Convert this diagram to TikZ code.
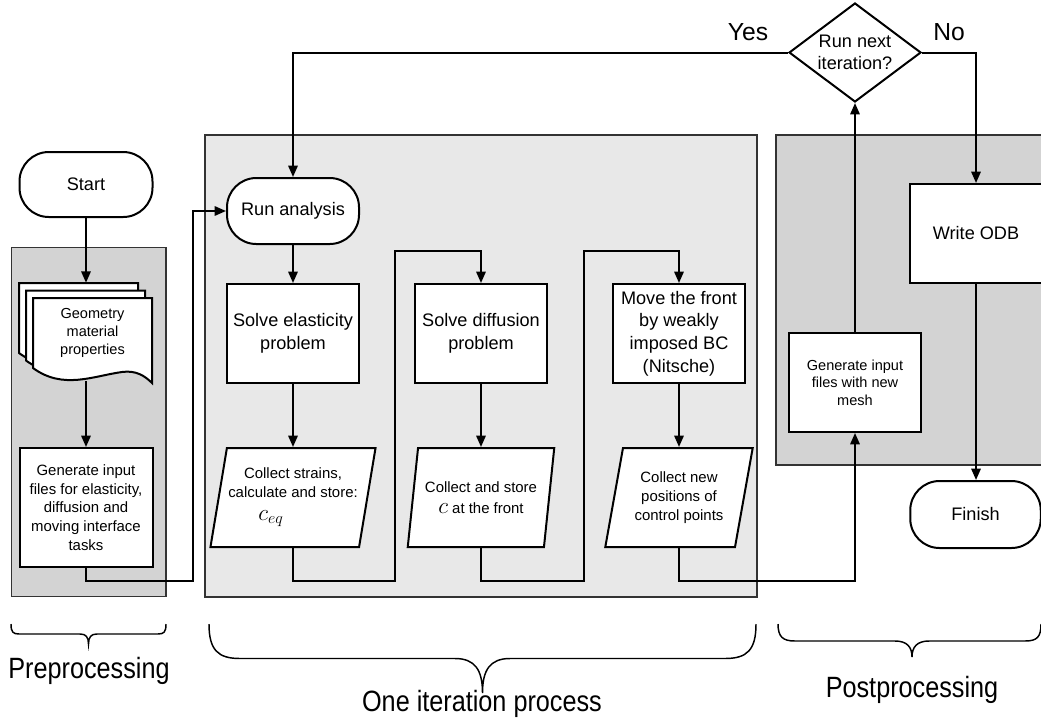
\documentclass[tikz,border=0pt]{standalone}
\usepackage{fontspec}
\setmainfont{Liberation Sans}
\newfontfamily\labelfont{Liberation Sans}[FakeStretch=0.86]
\usetikzlibrary{arrows.meta,shapes.geometric,calc}
\definecolor{grayA}{RGB}{211,211,211}
\definecolor{grayB}{RGB}{232,232,232}
\begin{document}
\begin{tikzpicture}[x=0.75pt,y=-0.75pt,
  line/.style={line width=1.5pt},
  conn/.style={line width=1.5pt,-{Triangle[length=8.5pt,width=7pt]}},
  box/.style={draw,fill=white,line width=1.5pt,align=center,inner sep=1pt},
  big/.style={font=\fontsize{13.6}{17}\selectfont},
  small/.style={font=\fontsize{11.2}{14}\selectfont},
  tiny/.style={font=\fontsize{10.9}{13.3}\selectfont},
  term/.style={box,big,rounded corners=22pt},
  para/.style={box,small,trapezium,trapezium left angle=75,trapezium right angle=105,trapezium stretches=true},
  region/.style={draw=black!80,line width=1pt},
  lbl/.style={font=\labelfont\fontsize{22}{26}\selectfont},
  yn/.style={font=\fontsize{18.5}{22}\selectfont},
  brace/.style={line width=1.1pt},
  page/.style={draw,fill=white,line width=1.5pt},
]
\useasboundingbox (0,0) rectangle (1041,722);
% regions
\filldraw[region,fill=grayA] (11.5,247.5) rectangle (166,596.5);
\filldraw[region,fill=grayB] (205,135) rectangle (757,597);
\filldraw[region,fill=grayA] (776,135) rectangle (1050,465);

% preprocessing
\node[term,minimum width={133*0.75pt},minimum height={65*0.75pt}] (start) at (86,184.5) {Start};
\foreach \sx/\sy in {0/0,7/7.5,14/15}{
  \filldraw[page,shift={(19+\sx,283+\sy)}] (0,0) -- (119,0) -- (119,85)
    .. controls (112,78) and (103,72) .. (89,74)
    .. controls (60,78) and (30,92) .. (0,70) -- cycle;
}
\node[tiny,align=center] (doctext) at (92.5,333) {Geometry\\material\\properties};
\node[minimum width={133*0.75pt},minimum height={98*0.75pt},inner sep=0pt] (doc) at (86,332) {};
\node[box,small,minimum width={133*0.75pt},minimum height={119*0.75pt}] (gen1) at (86,507.5)
  {Generate input\\files for elasticity,\\diffusion and\\moving interface\\tasks};

% iteration
\node[term,minimum width={132*0.75pt},minimum height={66*0.75pt}] (run) at (293,211) {Run analysis};
\node[box,big,minimum width={132*0.75pt},minimum height={99*0.75pt}] (elast) at (293,333.5) {Solve elasticity\\problem};
\node[box,big,minimum width={132*0.75pt},minimum height={99*0.75pt}] (diff) at (481,333.5) {Solve diffusion\\problem};
\node[box,big,minimum width={132.5*0.75pt},minimum height={99*0.75pt}] (move) at (679,333.5) {Move the front\\by weakly\\imposed BC\\(Nitsche)};
\node[para,minimum width={163*0.75pt},minimum height={99*0.75pt}] (coll1) at (293,497.5)
  {Collect strains,\\calculate and store:\\[3pt]{\fontsize{17}{17}\selectfont$c_{eq}$}\hspace*{33pt}};
\node[para,minimum width={148*0.75pt},minimum height={99*0.75pt}] (coll2) at (481,497.5)
  {Collect and store\\[2pt]{\fontsize{18}{18}\selectfont$c$} at the front};
\node[para,minimum width={148.4*0.75pt},minimum height={99*0.75pt}] (coll3) at (679,497.5)
  {Collect new\\positions of\\control points};

% postprocessing
\node[box,tiny,minimum width={132.7*0.75pt},minimum height={98.5*0.75pt}] (gen2) at (855,382.7)
  {Generate input\\files with new\\mesh};
\node[draw,fill=white,line width=1.5pt,diamond,aspect=1.33,inner sep=0pt,align=center,big,
  minimum width={132*0.75pt},minimum height={99*0.75pt}] (dec) at (855,52.5) {Run next\\iteration?};
\node[box,big,minimum width={133*0.75pt},minimum height={99*0.75pt}] (write) at (976,233.5) {Write ODB};
\node[term,minimum width={130.5*0.75pt},minimum height={67*0.75pt}] (finish) at (975.5,514.5) {Finish};
\node[yn] (yes) at (748,32) {Yes};
\node[yn] (no) at (949,32) {No};

% route points
\coordinate (b1) at (193,581);
\coordinate (b2) at (395,581);
\coordinate (t2) at (395,251);
\coordinate (b3) at (584,581);
\coordinate (t3) at (584,251);
\coordinate (b4) at (855,581);

% connectors
\draw[conn] (start) -- (doc);
\draw[conn] (doc) -- (gen1);
\draw[conn] (gen1.south) |- (b1) |- (run.west);
\draw[conn] (run) -- (elast);
\draw[conn] (elast.south) -- (elast.south |- coll1.north);
\draw[conn] (coll1.south) |- (b2) -- (t2) -| (diff.north);
\draw[conn] (diff.south) -- (diff.south |- coll2.north);
\draw[conn] (coll2.south) |- (b3) -- (t3) -| (move.north);
\draw[conn] (move.south) -- (move.south |- coll3.north);
\draw[conn] (coll3.south) |- (b4) -- (gen2.south);
\draw[conn] (gen2) -- (dec);
\draw[conn] (dec.west) -| (run.north);
\draw[conn] (dec.east) -| (write.north);
\draw[conn] (write.south) -- (write.south |- finish.north);

% braces
\draw[brace] (11,624) .. controls (11,632) and (13,634) .. (19,634) -- (80,634)
  .. controls (86,634) and (88.5,637) .. (88.5,644)
  .. controls (88.5,637) and (91,634) .. (97,634) -- (158,634)
  .. controls (164,634) and (166,632) .. (166,624);
\draw[brace] (209,624) .. controls (209,650) and (218,658.5) .. (240,658.5) -- (455,658.5)
  .. controls (475,658.5) and (482.5,670) .. (482.5,693)
  .. controls (482.5,670) and (490,658.5) .. (510,658.5) -- (725,658.5)
  .. controls (747,658.5) and (756,650) .. (756,624);
\draw[brace] (778,624) .. controls (778,637) and (783,641) .. (795,641) -- (895,641)
  .. controls (907,641) and (912,647) .. (912,657)
  .. controls (912,647) and (917,641) .. (929,641) -- (1025,641)
  .. controls (1037,641) and (1041,637) .. (1041,624);
\node[lbl] (prelbl) at (89,671) {Preprocessing};
\node[lbl] (iterlbl) at (482,704) {One iteration process};
\node[lbl] (postlbl) at (912,690) {Postprocessing};
\end{tikzpicture}
\end{document}
